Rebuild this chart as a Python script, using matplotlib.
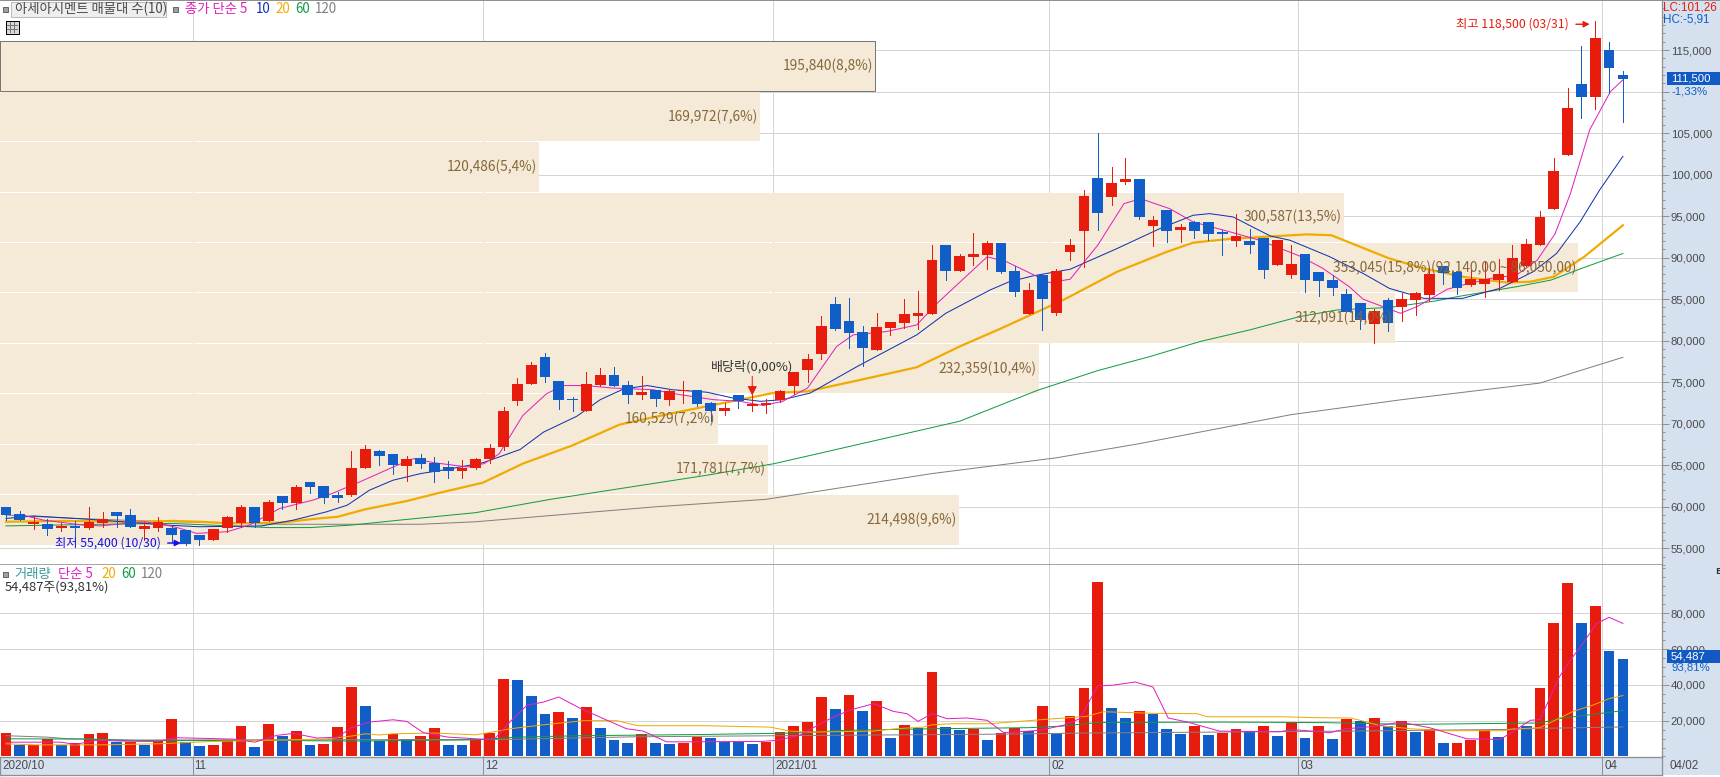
import matplotlib
matplotlib.use("Agg")
import matplotlib.pyplot as plt
from matplotlib.patches import Rectangle
from matplotlib.ticker import FuncFormatter, MultipleLocator

plt.rcParams['font.family'] = ['Noto Sans CJK KR', 'DejaVu Sans']

# candles, one per trading day
opens = [60000,59100,57900,57900,57500,57700,57500,58100,59400,59000,57300,57500,57400,57200,56600,56000,57500,58100,60000,58300,
         61300,60500,63000,62500,61400,61400,64700,66700,66400,64900,65900,65300,64800,64300,64700,65800,67200,72700,74800,78000,
         75100,73000,71500,74700,75900,74700,73500,74100,72900,73900,74100,72500,71500,73500,72100,72300,72900,74500,76500,78400,
         84400,82400,81000,78900,81500,82100,83000,83200,91500,88400,90100,90300,91800,88400,83200,87900,83300,90700,93200,99600,
         97300,99100,99500,93800,95700,93300,94300,94300,93100,92000,92000,92400,89100,87900,90400,88300,87300,85600,84500,82000,
         84900,84100,84900,85500,89000,88300,86700,86800,87300,87100,89000,91500,95900,102400,110900,109300,115000,112000]
highs = [60000,59500,58900,58500,58000,58300,60000,59400,59400,59700,58200,58800,57800,57200,56600,57300,58900,60200,60000,60800,
         61300,62600,63000,62500,61800,66700,67400,66800,66400,66100,66400,66000,65500,65600,65900,67600,72000,75500,77400,78500,
         75100,73200,76200,76700,76800,75100,75800,74100,74200,75100,74100,72600,72500,73500,73500,73000,74100,76200,78400,83000,
         85300,85200,81800,83300,82300,85000,86000,91500,91500,90400,93000,92000,91800,89000,86900,88000,88600,92200,98100,105000,
         100900,102000,99500,95000,95700,94100,94400,94300,93300,95300,93400,92400,92100,91500,90400,88300,87900,86200,84500,83800,
         85100,85700,85900,88900,89000,88300,88600,89600,89800,91500,92200,95600,102000,110400,115500,118500,116000,112500]
lows = [58400,58400,57300,56600,57100,56500,57300,57600,57600,57600,56000,57100,55800,55400,55400,56000,57000,57600,57600,58300,
        59700,59700,61700,60500,60600,61300,64700,65000,64000,63100,64700,63000,63500,63500,64600,65300,66800,72300,74800,75000,
        71800,71500,71500,74500,74500,72500,73000,72100,72300,72500,72100,70300,71100,71900,71500,71300,72600,73600,75000,77800,
        81300,79100,77000,78900,80700,81500,81400,83200,87300,88400,89100,88600,88200,85400,83200,81300,83100,89700,88900,93300,
        96300,98900,94700,91400,91900,91900,92400,92100,90300,91400,90600,87600,89100,87500,85900,85400,85500,83500,81400,79700,
        81200,82400,83100,84800,86800,85600,86600,85300,86100,87100,89000,91500,95900,102400,106800,107900,109800,106300]
closes = [59000,58400,58200,57300,57700,57500,58200,58500,58900,57600,57700,58200,56600,55500,56000,57300,58800,60000,58100,60600,
          60500,62400,62400,61100,61100,64700,67000,66100,65000,65800,65200,64200,64300,64700,65800,67100,71500,74800,77100,75600,
          72900,72900,74800,75900,74500,73500,73800,73000,73900,74100,72400,71500,71900,72700,72400,72500,73900,76200,77800,81800,
          81400,80900,79100,81600,82300,83200,83300,89700,88400,90200,90400,91800,88300,85900,86100,85000,88400,91500,97400,95400,
          99000,99500,94900,94500,93200,93700,93200,92800,92800,92600,91500,88500,92100,89200,87300,87200,86300,83500,82500,83600,
          82100,85000,85700,88000,88200,86300,87400,87400,88000,90000,91600,94900,100400,108000,109300,116400,112800,111500]

volumes = [12880,6160,6160,9700,6160,7280,12320,12880,7840,7840,6160,8400,20720,7840,5600,6160,8960,16800,5040,17920,
           11200,14000,6160,6720,16240,38640,28000,8400,12320,9520,11200,15680,6160,6160,9900,12880,43120,42560,33600,23520,
           24640,21280,27440,15680,8960,7280,12320,7280,6720,7280,10640,10080,8200,7840,6720,8200,13440,16800,19040,33040,
           26320,34160,25200,30800,10080,17360,15680,47040,16240,14560,15120,8960,12880,15680,14000,28000,12880,22400,38090,97500,
           26880,21280,25200,23520,15120,12320,16800,11760,12880,15120,14000,16800,11200,19040,10080,16800,9520,20720,19600,21280,
           16800,19600,13440,15120,7280,7280,8960,14560,10640,26880,16800,38090,74480,96880,74480,84000,58800,54487]
volume_up = "rbrrbrrrbrbrrbbrrrbrbrbrrrbbrbrrbbrrrbbbrbrbbbrbbrrbbbbrrrrrbrbrbrbrbbrbrrbrbrrrbbrbbbrbrrbrbrbrbrbrbrbrbrrrbrbrrrbrbb"

# price moving averages, read where the line could be followed
ma5_x = [1.2,2.7,5.6,6.8,10,11.6,12.6,13.8,16,17.6,19.8,22.2,23.6,25.6,28.3,29.5,31,33.4,34.6,35.7,37.4,39.1,40.3,41.9,43.9,46.8,48.8,51.2,53.1,54.8,56.2,58,60.1,61.3,63.7,65.9,67.5,71,72.4,74.4,75.5,77,79,80.9,82.1,84.2,85.9,88.8,90.7,93.6,95.3,97.2,98.2,100.9,102.1,104.3,105.4,107.4,109.3,110.8,112.1,113.2,114.6,116.1,117]
ma5_y = [59000,58400,57800,57700,58200,57800,57400,56800,57000,57800,59800,60800,61600,63000,65000,65800,65300,64800,65200,66400,71000,73600,74600,74600,74300,74100,73500,72900,72700,72200,72700,74300,79300,80700,81100,81900,84700,90100,89500,87900,87000,87400,91500,96500,97100,95900,94300,93000,92100,90200,88700,86500,85000,83300,84100,86200,86700,87500,87900,89700,92900,97700,105400,110000,111400]
ma10_x = [0,2,6,11.6,14,18.5,20.8,23.2,24.7,26.3,28,30,31.9,34.5,37.2,38.9,41.3,43,44.7,46.4,48.2,50.7,52.6,54.6,56.2,58.2,61.6,65.9,68,71.2,72.6,74.3,77,80.4,83.5,85.9,87.1,88.8,90.2,91.5,92.9,95.8,98.2,100.1,102.6,105.4,108.1,110.5,112.2,113.9,115.3,117]
ma10_y = [58600,58900,58500,57800,57600,57700,58400,59400,60200,62000,63200,64000,64500,65300,66900,69000,70900,72900,74200,74600,74100,73800,73100,72700,72900,73700,76900,80700,83300,86100,87100,87800,88600,91100,93500,95100,95300,94900,93700,92600,92100,90100,88100,86300,85100,85100,86300,88300,90500,94300,98100,102200]
ma20_x = [0,4,9.5,12,14,16.4,20,22,24,26,29,31.4,34.5,37.4,41,44.4,48.3,51.9,55.5,58,61.6,65.9,69,71.9,76.5,80.4,84,85.9,88.8,90,94.1,95.9,98,100.1,102.6,105.4,108.6,110.3,112,114.2,117]
ma20_y = [58200,58300,58200,58300,58200,58000,58100,58500,58800,59700,60700,61700,62900,65200,67400,69900,71300,72500,73700,73900,75200,76800,79300,81400,84900,88300,90700,91800,92300,92400,92800,92700,91300,89900,88700,87700,87000,87100,87700,90100,93900]
ma60_x = [0,7,12,19,22,25,28.5,34,39.4,50.7,55.6,69,74.6,79,82.8,86.4,90,93.6,96.3,100.1,103.5,105,109.3,111.8,114,117]
ma60_y = [57700,57900,58000,57500,57500,57800,58400,59300,60900,63800,65200,70300,74000,76400,78100,79900,81300,82900,83700,84000,84800,85300,86500,87300,88700,90500]
ma120_x = [0,5,10,15,20,25,30,34,47,55,67,76,82,93,101,111,117]
ma120_y = [59000,58600,58300,58100,57900,57900,57900,58200,60000,60900,64000,65900,67600,71100,72900,74900,78000]

# volume moving averages
vma5_x = [0,4,5,6.5,8.5,11,12.3,16.5,18,19.6,20.8,22.5,24,25,26.3,28,29,30.2,32,35.3,36.5,37.7,38.9,40,41.5,43.5,44.9,46.1,47.8,49.5,51.9,54.6,55.8,57.4,59.4,61,62.8,64.2,65.2,66,67,68.1,69.5,71,72.2,74.8,76.5,77.7,79,80.1,81.7,83,84.1,85.5,87.8,92.2,93,95.8,97,99,100.9,103,105.7,108.1,109,110.3,111,112.4,113.2,114.1,115.1,116,117]
vma5_y = [8000,8000,6700,9000,8600,8400,10500,9700,8000,11800,12900,10300,10800,16100,19200,20500,19600,13300,10800,9300,19600,28600,30400,33200,27100,20200,15500,14200,8200,8200,8300,8400,9000,11800,20200,25800,29500,25200,23900,19600,23900,21100,21500,20200,13300,14600,17400,21100,39400,39800,41600,38800,21500,19200,14200,13800,15100,13300,15500,16800,19200,16100,9900,9500,13600,20200,20600,44400,53800,63100,74300,77700,74300]
vma20_x = [0,2,7,11,15,23,25,26,27,28,31,34,35,36.5,38.9,41.8,44.2,45.7,50.5,55.3,56.7,58.2,62.8,64.4,66.4,67,68.5,71.2,74.8,78.2,79.4,83,86.2,86.9,92.4,94.6,97.3,98.5,99.4,101.6,104.3,108.4,109,111,112.2,113.4,114.8,116,117]
vma20_y = [7100,6500,6500,7100,8400,9700,11400,12700,12000,12700,13100,12100,13400,15500,17700,20000,20000,17200,17200,16400,14200,13600,14200,15500,16400,17700,18300,18300,20500,22400,25000,24100,23900,22200,22200,21700,21500,19200,17200,15500,14400,14400,15300,16100,20600,25200,28600,32300,34000]
vma60_x = [0,6,9,19,25,34,37,41.5,50.5,57.2,60.6,67.3,74.1,76.5,79,88.3,95.5,101.4,106,111,112.4,114.3,117]
vma60_y = [9900,9700,8800,9000,8600,9300,10800,11600,12300,13100,14600,15500,16100,17000,19000,19200,18900,17900,18300,18700,21100,23000,25600]
vma120_x = [0,3,4.5,9.5,36,45.5,59.4,72.4,78.2,97.5,108.4,111,117]
vma120_y = [11600,10800,9900,9200,9500,11000,11800,12500,13100,14200,15100,15700,16500]

# volume profile, top band first
band_edges = [116100,110030,103960,97890,91820,85750,79680,73610,67540,61470,55400]
band_vols = [195840,169972,120486,300587,353045,312091,232359,160529,171781,214498]
band_labels = ["195,840(8,8%)","169,972(7,6%)","120,486(5,4%)","300,587(13,5%)","353,045(15,8%)(92,140,00 ~ 86,050,00)",
               "312,091(14,0%)","232,359(10,4%)","160,529(7,2%)","171,781(7,7%)","214,498(9,6%)"]

month_pos = [13.5,34.5,55.5,75.5,93.5,115.5]
month_labels = ["11","12","2021/01","02","03","04"]

RED, BLUE = "#e81c0c", "#115ec9"
MAGENTA, NAVY, ORANGE, GREEN, GREY = "#e020c0", "#1030b0", "#f0aa00", "#109c40", "#808080"
GRID, EDGE, STRIP = "#d4d4d4", "#909090", "#d6e1ef"
BAND, BROWN, DARK = "#f5e9d7", "#86683a", "#4a4a4a"
LATIN = ["Liberation Sans", "DejaVu Sans"]
W, H = 1720, 777
PX = 0.72  # one pixel in points at dpi 100

def rect(l, t, r, b):
    return [l / W, 1 - b / H, (r - l) / W, (b - t) / H]

fig = plt.figure(figsize=(W / 100, H / 100), dpi=100, facecolor="white")

xlim = (-0.434, 119.83)
price_lim = (52994, 120900)
vol_lim = (-280, 106900)

# layers of the price panel: grid, then profile bands, then candles
ax_grid = fig.add_axes(rect(0, 1, 1662, 565), zorder=0)
ax_prof = fig.add_axes(rect(0, 1, 1662, 565), zorder=1)
ax = fig.add_axes(rect(0, 1, 1662, 565), zorder=2)
ax_vol = fig.add_axes(rect(0, 565, 1662, 757), zorder=2)
ax_date = fig.add_axes(rect(0, 757, 1662, 775), zorder=2, facecolor=STRIP)
ov = fig.add_axes([0, 0, 1, 1], zorder=5)
ov.set_xlim(0, W)
ov.set_ylim(H, 0)
ov.axis("off")
# right hand scale strip
fig.patches.append(Rectangle((1662 / W, 1 - 775 / H), 58 / W, 775 / H, transform=fig.transFigure, facecolor=STRIP, edgecolor="none"))

for a in (ax_grid, ax_prof):
    a.set_xticks([])
    a.set_yticks([])
    for s in a.spines.values():
        s.set_visible(False)

ax_grid.set_xlim(xlim)
ax_grid.set_ylim(price_lim)
ax_grid.hlines(range(55000, 120000, 5000), *xlim, color=GRID, lw=PX, antialiased=False)
ax_grid.vlines(month_pos, *price_lim, color=GRID, lw=PX, antialiased=False)

# bands are scaled so that 353,045 reaches pixel 1579
ax_prof.patch.set_visible(False)
ax_prof.set_xlim(0, 1662 / 0.00447)
ax_prof.set_ylim(price_lim)
for i, vol in enumerate(band_vols):
    hi, lo = band_edges[i], band_edges[i + 1]
    ax_prof.barh((hi + lo) / 2, vol, height=(hi - lo) - 120, color=BAND, linewidth=0)
ax_prof.add_patch(Rectangle((0, band_edges[1]), band_vols[0], band_edges[0] - band_edges[1],
                            facecolor="none", edgecolor="#777777", lw=PX))

ax.patch.set_visible(False)
ax.set_xlim(xlim)
ax.set_ylim(price_lim)
ax.plot(ma120_x, ma120_y, color=GREY, lw=PX, zorder=2)
ax.plot(ma60_x, ma60_y, color=GREEN, lw=PX, zorder=2)
ax.plot(ma20_x, ma20_y, color=ORANGE, lw=PX * 2.2, zorder=2)
ax.plot(ma10_x, ma10_y, color=NAVY, lw=PX, zorder=2)
ax.plot(ma5_x, ma5_y, color=MAGENTA, lw=PX, zorder=2)

for i, (o, h, l, c) in enumerate(zip(opens, highs, lows, closes)):
    col = RED if c >= o else BLUE
    ax.vlines(i, l, h, color=col, lw=PX, zorder=3, antialiased=False)
    ax.bar(i, abs(c - o), bottom=min(o, c), width=0.78, color=col, linewidth=0, zorder=3)

ax.yaxis.tick_right()
ax.xaxis.set_visible(False)
ax.set_yticks(range(55000, 120000, 5000))
# the 110,000 label sits under the last price readout
ax.yaxis.set_major_formatter(FuncFormatter(lambda v, p: "" if v == 110000 else f"{int(v):,}"))
ax.yaxis.set_minor_locator(MultipleLocator(1000))

ax_vol.patch.set_visible(False)
ax_vol.set_xlim(xlim)
ax_vol.set_ylim(vol_lim)
ax_vol.hlines([20000, 40000, 60000, 80000], *xlim, color=GRID, lw=PX, zorder=0, antialiased=False)
ax_vol.vlines(month_pos, *vol_lim, color=GRID, lw=PX, zorder=0, antialiased=False)
ax_vol.bar(range(len(volumes)), volumes, width=0.78, linewidth=0, zorder=1,
           color=[RED if u == "r" else BLUE for u in volume_up])
ax_vol.plot(vma120_x, vma120_y, color=GREY, lw=PX, zorder=2)
ax_vol.plot(vma60_x, vma60_y, color=GREEN, lw=PX, zorder=2)
ax_vol.plot(vma20_x, vma20_y, color=ORANGE, lw=PX, zorder=2)
ax_vol.plot(vma5_x, vma5_y, color=MAGENTA, lw=PX, zorder=2)
ax_vol.yaxis.tick_right()
ax_vol.xaxis.set_visible(False)
ax_vol.set_yticks([20000, 40000, 60000, 80000])
ax_vol.yaxis.set_major_formatter(FuncFormatter(lambda v, p: f"{int(v):,}"))
ax_vol.yaxis.set_minor_locator(MultipleLocator(5000))

for a in (ax, ax_vol):
    a.tick_params(axis="y", which="major", length=4.7, width=PX, color=EDGE, pad=1.5,
                  labelsize=8.2, labelcolor=DARK, labelfontfamily="Liberation Sans")
    a.tick_params(axis="y", which="minor", length=2.3, width=PX, color=EDGE)
    for s in ("left", "top", "bottom"):
        a.spines[s].set_visible(False)
    a.spines["right"].set_color(EDGE)
    a.spines["right"].set_linewidth(PX * 1.3)

# dates
ax_date.set_xlim(xlim)
ax_date.set_ylim(0, 1)
ax_date.set_xticks([])
ax_date.set_yticks([])
for s in ax_date.spines.values():
    s.set_color(EDGE)
    s.set_linewidth(PX * 1.3)
ax_date.vlines(month_pos, 0, 1, color=EDGE, lw=PX)
ax_date.text(-0.29, 0.5, "2020/10", fontsize=8.4, color=DARK, va="center", family=LATIN)
for pos, lab in zip(month_pos, month_labels):
    ax_date.text(pos + 0.14, 0.5, lab, fontsize=8.4, color=DARK, va="center", family=LATIN)

ax.axhline(price_lim[0], color=EDGE, lw=PX * 1.6, zorder=6)

# profile labels sit over the candles
for i, vol in enumerate(band_vols):
    ax.annotate(band_labels[i], xy=(vol, (band_edges[i] + band_edges[i + 1]) / 2), xycoords=ax_prof.transData,
                xytext=(-2, 0), textcoords="offset pixels", ha="right", va="center",
                fontsize=9.9, color=BROWN, zorder=7, annotation_clip=False)

# high, low and ex-dividend marks
ax.annotate("최고 118,500 (03/31)", xy=(114.6, 118100), xytext=(113.1, 118100), color=RED, fontsize=8.8, va="center", ha="right",
            arrowprops=dict(arrowstyle="-|>", color=RED, lw=PX * 1.4, mutation_scale=9, shrinkA=3, shrinkB=0), zorder=7)
ax.annotate("최저 55,400 (10/30)", xy=(12.65, 55640), xytext=(11.2, 55640), color="#1010e8", fontsize=8.8, va="center", ha="right",
            arrowprops=dict(arrowstyle="-|>", color="#1010e8", lw=PX * 1.4, mutation_scale=9, shrinkA=3, shrinkB=0), zorder=7)
ax.annotate("", xy=(54, 73400), xytext=(54, 75700),
            arrowprops=dict(arrowstyle="-|>", color=RED, lw=PX, mutation_scale=14, shrinkA=0, shrinkB=0), zorder=7)
ax.text(54, 76900, "배당락(0,00%)", color="#333333", fontsize=9.4, ha="center", va="center", zorder=7)

def tag(x, y, s, color, size=9.6, **kw):
    ov.text(x, y, s, color=color, fontsize=size, va="center", **kw)

# header rows
ov.add_patch(Rectangle((0, 0), 1720, 1.2, facecolor=EDGE, edgecolor="none"))
ov.add_patch(Rectangle((11, 2), 155, 14.5, facecolor="#eeeeee", edgecolor="#bbbbbb", lw=PX))
tag(15, 9, "아세아시멘트 매물대 수(10)", DARK, 9.6)
for x, y in [(3, 6.7), (173, 6.7), (3, 572)]:
    ov.add_patch(Rectangle((x, y), 4.7, 5, facecolor="#a0a0a0", edgecolor="#666666", lw=PX))
tag(185, 9, "종가 단순 5", MAGENTA)
tag(256, 9, "10", NAVY)
tag(275, 9, "20", ORANGE)
tag(295, 9, "60", GREEN)
tag(315, 9, "120", GREY)
ov.add_patch(Rectangle((5.5, 20.5), 13, 13, facecolor="#d8d8d8", edgecolor="black", lw=PX))
for k in (9.8, 14.2):
    ov.plot([k, k], [22, 32], color="#777777", lw=PX)
ov.plot([7, 17], [24.5, 24.5], color="#777777", lw=PX)
ov.plot([7, 17], [28.5, 28.5], color="#777777", lw=PX)

tag(14, 574, "거래량", "#3c9a9a")
tag(58, 574, "단순 5", MAGENTA)
tag(101, 574, "20", ORANGE)
tag(121, 574, "60", GREEN)
tag(141, 574, "120", GREY)
tag(4.7, 587, "54,487주(93,81%)", "#333333", 9.3)

# right strip readouts
tag(1663, 8, "LC:101,26", RED, 8.4, family=LATIN)
tag(1663, 20, "HC:-5,91", BLUE, 8.4, family=LATIN)
ov.add_patch(Rectangle((1667, 72), 53, 13, facecolor="#1259c3", edgecolor="none"))
tag(1671, 78.5, "111,500", "white", 8.2, family=LATIN)
tag(1671, 91, "-1,33%", BLUE, 8.2, family=LATIN)
ov.add_patch(Rectangle((1667, 650), 53, 13, facecolor="#1259c3", edgecolor="none"))
tag(1671, 656.5, "54,487", "white", 8.2, family=LATIN)
tag(1671, 668, "93,81%", BLUE, 8.2, family=LATIN)
tag(1669, 766, "04/02", DARK, 8.4, family=LATIN)
tag(1715, 572, "E", "#333333", 6.5, fontweight="bold")

fig.savefig("out.png", dpi=100, facecolor="white")
